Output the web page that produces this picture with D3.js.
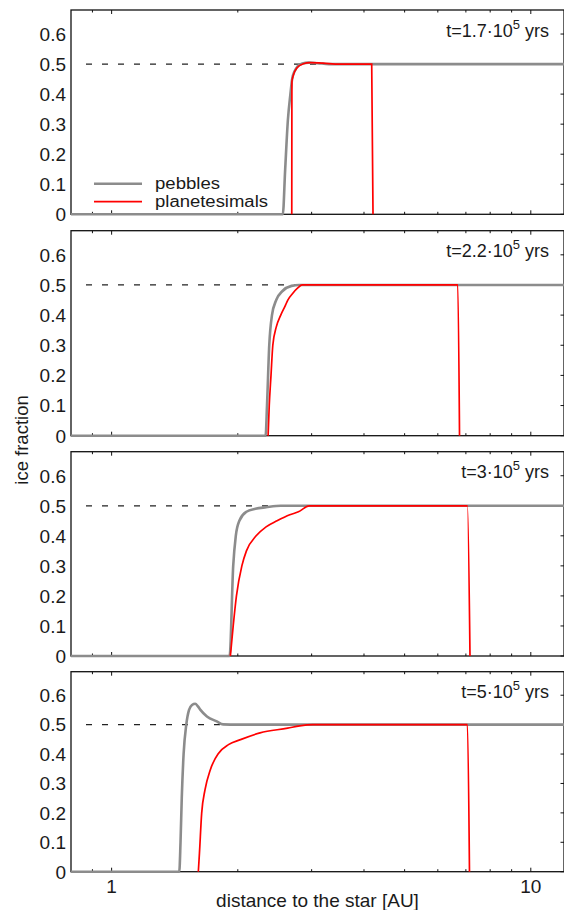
<!DOCTYPE html>
<html>
<head>
<meta charset="utf-8">
<script src="https://cdn.jsdelivr.net/npm/d3@7"></script>
<style>
  body { margin: 0; background: #fff; }
  svg { font-family: "Liberation Sans", Arial, sans-serif; }
</style>
</head>
<body>
<div id="container"></div>
<script>
// panel labels (time in units of 1e5 yrs)
const times = ["1.7", "2.2", "3", "5"];
const yTicks = [0, 0.1, 0.2, 0.3, 0.4, 0.5, 0.6];
const xMajor = [1, 10];
const xMinor = [0.9, 2, 3, 4, 5, 6, 7, 8, 9];
const iceLevel = 0.5;

// [distance AU, ice fraction]
const pebbles1 = [[0.8,0],[2.561,0],[2.594,0.148],[2.633,0.313],[2.67,0.40],[2.695,0.45],[2.73,0.475],[2.78,0.493],[2.85,0.502],[2.95,0.505],[3.1,0.503],[3.3,0.5],[12,0.5]];
const planet1 = [[2.690,0],[2.692,0.442],[2.715,0.464],[2.766,0.487],[2.868,0.501],[2.975,0.505],[3.194,0.503],[3.5,0.5],[4.173,0.5],[4.203,0]];

const pebbles2 = [[0.8,0],[2.33,0],[2.348,0.1],[2.377,0.3],[2.413,0.4],[2.47,0.45],[2.557,0.48],[2.687,0.497],[2.8,0.5],[12,0.5]];
const planet2 = [[2.362,0],[2.377,0.1],[2.40,0.2],[2.424,0.3],[2.47,0.36],[2.532,0.4],[2.593,0.43],[2.632,0.45],[2.697,0.47],[2.78,0.49],[2.849,0.5],[6.695,0.5],[6.76,0]];

const pebbles3 = [[0.8,0],[1.912,0],[1.95,0.3],[1.978,0.4],[2.017,0.45],[2.097,0.48],[2.203,0.49],[2.336,0.495],[2.532,0.5],[12,0.5]];
const planet3 = [[1.920,0],[1.95,0.1],[1.985,0.2],[2.045,0.3],[2.097,0.35],[2.212,0.4],[2.336,0.43],[2.481,0.45],[2.661,0.47],[2.79,0.48],[2.962,0.5],[7.06,0.5],[7.16,0]];

const pebbles4 = [[0.8,0],[1.45,0],[1.46,0.1],[1.47,0.25],[1.485,0.4],[1.507,0.5],[1.53,0.55],[1.555,0.567],[1.583,0.571],[1.605,0.563],[1.627,0.551],[1.688,0.528],[1.782,0.511],[1.845,0.501],[2.0,0.5],[12,0.5]];
const planet4 = [[1.61,0],[1.62,0.063],[1.64,0.199],[1.67,0.278],[1.72,0.347],[1.80,0.403],[1.90,0.432],[2.03,0.449],[2.26,0.472],[2.63,0.488],[2.81,0.496],[3.02,0.5],[7.06,0.5],[7.14,0]];

const pebbles = [pebbles1, pebbles2, pebbles3, pebbles4];
const planets = [planet1, planet2, planet3, planet4];

const width = 564, height = 910;
const left = 71, right = 564;
const tops = [10, 230.7, 451.7, 671.7];
const bottoms = [214.3, 435.7, 656, 871.7];

const svg = d3.select("#container").append("svg")
  .attr("width", width).attr("height", height);

const x = d3.scaleLog().domain([0.8, 12]).range([left, right]);

tops.forEach((top, i) => {
  const y = d3.scaleLinear().domain([0, 0.68]).range([bottoms[i], top]);
  const g = svg.append("g");

  // dashed reference line
  g.append("line")
    .attr("x1", x(0.8) + 15).attr("x2", right)
    .attr("y1", y(iceLevel)).attr("y2", y(iceLevel))
    .attr("stroke", "#222").attr("stroke-width", 1.2)
    .attr("stroke-dasharray", "6,10");

  // frame
  g.append("rect")
    .attr("x", left).attr("y", top)
    .attr("width", right - left).attr("height", bottoms[i] - top)
    .attr("fill", "none").attr("stroke", "#111").attr("stroke-width", 1.3);

  // x ticks, inward on bottom and top
  xMajor.concat(xMinor).forEach(v => {
    const len = xMajor.includes(v) ? 4 : 2.5;
    g.append("line").attr("x1", x(v)).attr("x2", x(v))
      .attr("y1", bottoms[i]).attr("y2", bottoms[i] - len)
      .attr("stroke", "#111").attr("stroke-width", 1);
    g.append("line").attr("x1", x(v)).attr("x2", x(v))
      .attr("y1", top).attr("y2", top + len)
      .attr("stroke", "#111").attr("stroke-width", 1);
  });

  // y ticks (right side) and labels
  yTicks.forEach(v => {
    g.append("line").attr("x1", right - 3.5).attr("x2", right)
      .attr("y1", y(v)).attr("y2", y(v))
      .attr("stroke", "#111").attr("stroke-width", 1);
    g.append("text")
      .attr("x", 66).attr("y", y(v) + 6.8)
      .attr("text-anchor", "end")
      .attr("font-size", 19).attr("fill", "#1a1a1a")
      .text(v === 0 ? "0" : v.toFixed(1));
  });

  const line = d3.line()
    .x(d => x(d[0])).y(d => y(d[1]))
    .curve(d3.curveMonotoneX);

  g.append("path").datum(pebbles[i])
    .attr("d", line).attr("fill", "none")
    .attr("stroke", "#8c8c8c").attr("stroke-width", 2.6);
  g.append("path").datum(planets[i])
    .attr("d", line).attr("fill", "none")
    .attr("stroke", "#ff0000").attr("stroke-width", 1.7);

  // time label
  const t = g.append("text")
    .attr("x", 549).attr("y", top + 26.5)
    .attr("text-anchor", "end")
    .attr("font-size", 18).attr("fill", "#1a1a1a");
  t.append("tspan").text("t=" + times[i] + "\u00b710");
  t.append("tspan").attr("font-size", 13).attr("dy", -8).text("5");
  t.append("tspan").attr("dy", 8).text(" yrs");

  // x labels only on the last panel
  if (i === tops.length - 1) {
    xMajor.forEach(v => {
      g.append("text")
        .attr("x", x(v)).attr("y", bottoms[i] + 21)
        .attr("text-anchor", "middle")
        .attr("font-size", 19).attr("fill", "#1a1a1a")
        .text(v);
    });
  }
});

// legend in first panel
const legend = [["pebbles", "#8c8c8c", 2.6, 65], ["planetesimals", "#ff0000", 1.7, 113]];
legend.forEach((d, i) => {
  const ly = 183.7 + i * 18;
  svg.append("line")
    .attr("x1", 94).attr("x2", 142).attr("y1", ly).attr("y2", ly)
    .attr("stroke", d[1]).attr("stroke-width", d[2]);
  svg.append("text")
    .attr("x", 155).attr("y", ly + 5.5)
    .attr("font-size", 15.8).attr("fill", "#1a1a1a")
    .attr("textLength", d[3]).attr("lengthAdjust", "spacingAndGlyphs")
    .text(d[0]);
});

// axis titles
svg.append("text")
  .attr("x", 317.5).attr("y", 907)
  .attr("text-anchor", "middle")
  .attr("font-size", 19).attr("fill", "#1a1a1a")
  .text("distance to the star [AU]");

svg.append("text")
  .attr("transform", "translate(28,440) rotate(-90)")
  .attr("text-anchor", "middle")
  .attr("font-size", 18.5).attr("fill", "#1a1a1a")
  .text("ice fraction");
</script>
</body>
</html>
